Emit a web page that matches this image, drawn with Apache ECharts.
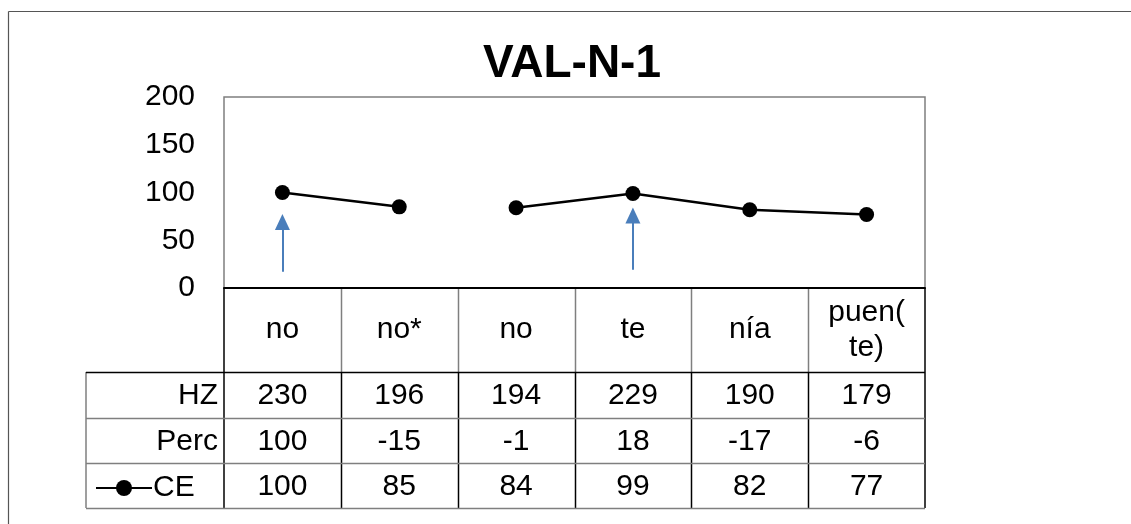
<!DOCTYPE html>
<html>
<head>
<meta charset="utf-8">
<script src="https://cdn.jsdelivr.net/npm/echarts@6/dist/echarts.min.js"></script>
<style>
  html, body { margin: 0; padding: 0; background: #fff; }
  #main { width: 1131px; height: 524px; }
</style>
</head>
<body>
<div id="main"></div>
<script>
  // data
  var categories = ['no', 'no*', 'no', 'te', 'nía', 'puen(\nte)'];
  var hz = [230, 196, 194, 229, 190, 179];
  var perc = [100, -15, -1, 18, -17, -6];
  var ce = [100, 85, 84, 99, 82, 77];
  var breakAfter = 1; // line is broken between no* and no
  var yTicks = [0, 50, 100, 150, 200];
  // blue arrows under some points (category index, from value, to value)
  var arrows = [
    { cat: 0, from: 17, to: 69 },
    { cat: 3, from: 19, to: 76 }
  ];

  var FONT = '"Liberation Sans", Arial, sans-serif';
  var FS = 30;
  var gl = 224, gt = 97, gr = 925, gb = 288;
  var rowH = [84, 46, 45, 45]; // header, HZ, Perc, CE
  var tableLeft = 86;

  var segA = ce.map(function (v, i) { return i <= breakAfter ? v : '-'; });
  var segB = ce.map(function (v, i) { return i > breakAfter ? v : '-'; });

  function rowAxis(vals, offset) {
    return {
      type: 'category',
      gridIndex: 0,
      position: 'bottom',
      offset: offset,
      data: vals.map(String),
      axisLine: { show: false },
      axisTick: { show: false },
      axisLabel: {
        margin: 0, color: '#000', fontSize: FS, fontFamily: FONT,
        verticalAlign: 'middle', interval: 0
      }
    };
  }

  // table lines
  var g = [];
  var lineGray = '#7f7f7f';
  var y = gb;
  var rowTops = [];
  for (var r = 0; r < rowH.length; r++) { rowTops.push(y); y += rowH[r]; }
  var tableBottom = y;
  var colW = (gr - gl) / categories.length;
  for (var c = 1; c < categories.length; c++) {
    var x = Math.round(gl + c * colW) + 0.5;
    g.push({ type: 'line', shape: { x1: x, y1: gb, x2: x, y2: rowTops[1] }, style: { stroke: lineGray, lineWidth: 1.5 } });
    g.push({ type: 'line', shape: { x1: x, y1: rowTops[1], x2: x, y2: tableBottom }, style: { stroke: '#000', lineWidth: 1.5 } });
  }
  g.push({ type: 'line', shape: { x1: gl, y1: gb, x2: gl, y2: tableBottom }, style: { stroke: '#000', lineWidth: 1.5 } });
  g.push({ type: 'line', shape: { x1: gr, y1: gb, x2: gr, y2: tableBottom }, style: { stroke: '#000', lineWidth: 1.5 } });
  g.push({ type: 'line', shape: { x1: tableLeft, y1: rowTops[1], x2: tableLeft, y2: tableBottom }, style: { stroke: lineGray, lineWidth: 1.5 } });
  for (var r2 = 1; r2 < rowTops.length; r2++) {
    g.push({ type: 'line', shape: { x1: tableLeft, y1: rowTops[r2] + 0.5, x2: gr, y2: rowTops[r2] + 0.5 }, style: { stroke: r2 === 1 ? '#000' : lineGray, lineWidth: 1.5 } });
  }
  g.push({ type: 'line', shape: { x1: tableLeft, y1: tableBottom + 0.5, x2: gr, y2: tableBottom + 0.5 }, style: { stroke: lineGray, lineWidth: 1.5 } });
  // outer frame
  g.push({ type: 'line', shape: { x1: 8.5, y1: 11.5, x2: 1131, y2: 11.5 }, style: { stroke: '#555', lineWidth: 1.2 } });
  g.push({ type: 'line', shape: { x1: 8.5, y1: 11.5, x2: 8.5, y2: 524 }, style: { stroke: '#555', lineWidth: 1.2 } });
  // row labels
  var rowNames = ['HZ', 'Perc'];
  rowNames.forEach(function (n, i) {
    g.push({ type: 'text', x: gl - 6, y: rowTops[i + 1] + rowH[i + 1] / 2 + 1,
      style: { text: n, fill: '#000', font: FS + 'px ' + FONT, align: 'right', verticalAlign: 'middle' } });
  });

  var myChart = echarts.init(document.getElementById('main'));
  myChart.setOption({
    animation: false,
    title: {
      text: 'VAL-N-1',
      left: 478,
      top: 36,
      textStyle: { fontSize: 46, fontWeight: 'bold', color: '#000', fontFamily: FONT }
    },
    legend: {
      data: ['CE'],
      left: 90,
      top: rowTops[3] + 5,
      itemWidth: 56,
      itemHeight: 20,
      itemGap: 2,
      textStyle: { fontSize: FS, color: '#000', fontFamily: FONT, padding: [0, 0, 0, -4] },
      selectedMode: false
    },
    grid: {
      left: gl, top: gt, right: 1131 - gr, bottom: 524 - gb,
      show: true, borderColor: lineGray, borderWidth: 1.5
    },
    xAxis: [
      {
        type: 'category',
        data: categories,
        axisLine: { lineStyle: { color: '#000', width: 2 } },
        axisTick: { show: false },
        axisLabel: {
          margin: rowH[0] / 2, color: '#000', fontSize: FS, fontFamily: FONT,
          verticalAlign: 'middle', lineHeight: 35, interval: 0
        }
      },
      rowAxis(hz, rowH[0] + rowH[1] / 2 + 1),
      rowAxis(perc, rowH[0] + rowH[1] + rowH[2] / 2 + 1),
      rowAxis(ce, rowH[0] + rowH[1] + rowH[2] + rowH[3] / 2 + 1)
    ],
    yAxis: {
      type: 'value',
      min: yTicks[0],
      max: yTicks[yTicks.length - 1],
      interval: yTicks[1] - yTicks[0],
      axisLine: { show: false },
      axisTick: { show: false },
      splitLine: { show: false },
      axisLabel: { margin: 29, color: '#000', fontSize: FS, fontFamily: FONT }
    },
    graphic: g,
    series: [
      {
        name: 'CE',
        type: 'line',
        data: segA,
        symbol: 'circle',
        symbolSize: 15,
        itemStyle: { color: '#000' },
        lineStyle: { color: '#000', width: 2.5 },
        markLine: {
          silent: true,
          symbol: ['none', 'triangle'],
          symbolSize: [15, 16],
          label: { show: false },
          lineStyle: { color: '#4a7ebb', width: 2, type: 'solid' },
          data: arrows.map(function (a) {
            return [{ coord: [a.cat, a.from] }, { coord: [a.cat, a.to] }];
          })
        }
      },
      {
        name: 'CE',
        type: 'line',
        data: segB,
        symbol: 'circle',
        symbolSize: 15,
        itemStyle: { color: '#000' },
        lineStyle: { color: '#000', width: 2.5 }
      }
    ]
  });
</script>
</body>
</html>
